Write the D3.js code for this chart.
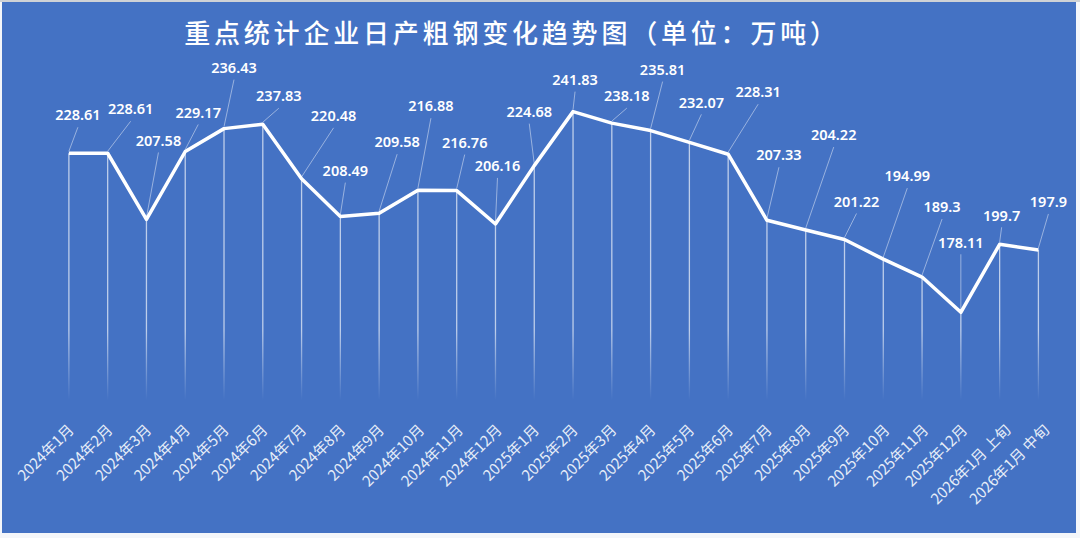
<!DOCTYPE html>
<html>
<head>
<meta charset="utf-8">
<script src="https://cdn.jsdelivr.net/npm/d3@7"></script>
<style>
  html, body { margin: 0; padding: 0; background: #ffffff; }
  svg { display: block; }
</style>
</head>
<body>
<svg id="chart" width="1080" height="538"></svg>
<script>
// data
var categories = [
  "2024年1月", "2024年2月", "2024年3月", "2024年4月", "2024年5月", "2024年6月",
  "2024年7月", "2024年8月", "2024年9月", "2024年10月", "2024年11月", "2024年12月",
  "2025年1月", "2025年2月", "2025年3月", "2025年4月", "2025年5月", "2025年6月",
  "2025年7月", "2025年8月", "2025年9月", "2025年10月", "2025年11月", "2025年12月",
  "2026年1月 上旬", "2026年1月 中旬"
];
var output = [
  228.61, 228.61, 207.58, 229.17, 236.43, 237.83,
  220.48, 208.49, 209.58, 216.88, 216.76, 206.16,
  224.68, 241.83, 238.18, 235.81, 232.07, 228.31,
  207.33, 204.22, 201.22, 194.99, 189.3, 178.11,
  199.7, 197.9
];
var yDomain = [150, 250];
var title = "重点统计企业日产粗钢变化趋势图（单位：万吨）";

// where Excel left each data label (offset of label centre from its point)
var labelOffsets = [
  [9, -38], [23, -44], [12, -79], [13, -39], [10, -61], [16, -28],
  [32, -63], [5, -46], [18, -71], [13, -84], [8, -48], [2, -58],
  [-5, -54], [2, -32], [15, -27], [12, -61], [12, -40], [30, -62],
  [12, -65], [28, -95], [12, -38], [24, -83], [20, -70], [0, -70],
  [2, -29], [10, -48]
];

var BG = "#4472c4";
var svg = d3.select("#chart");

// chart area with thin light frame like the screenshot
svg.append("rect").attr("x", 0).attr("y", 0).attr("width", 1080).attr("height", 538).attr("fill", "#f4f6fa");
svg.append("rect").attr("x", 0).attr("y", 0).attr("width", 1080).attr("height", 2).attr("fill", "#cfd2d6");
svg.append("rect").attr("x", 2).attr("y", 2).attr("width", 1074).attr("height", 531).attr("fill", BG);

var x = d3.scaleBand().domain(categories).range([49.5, 1057.8]);
var y = d3.scaleLinear().domain(yDomain).range([400.8, 85.9]);
var cx = function(d, i) { return x(categories[i]) + x.bandwidth() / 2; };

// fading drop lines
var defs = svg.append("defs");
var grad = defs.append("linearGradient")
  .attr("id", "dropFade").attr("gradientUnits", "userSpaceOnUse")
  .attr("x1", 0).attr("y1", 330).attr("x2", 0).attr("y2", 400);
grad.append("stop").attr("offset", 0).attr("stop-color", "#ffffff").attr("stop-opacity", 0.65);
grad.append("stop").attr("offset", 1).attr("stop-color", "#ffffff").attr("stop-opacity", 0);

svg.append("g").selectAll("line").data(output).join("line")
  .attr("x1", cx).attr("x2", cx)
  .attr("y1", function(d) { return y(d); })
  .attr("y2", y(yDomain[0]))
  .attr("stroke", "url(#dropFade)")
  .attr("stroke-width", 1.3);

// leader lines
svg.append("g").selectAll("line").data(output).join("line")
  .attr("x1", cx)
  .attr("y1", function(d) { return y(d) - 2; })
  .attr("x2", function(d, i) { return cx(d, i) + labelOffsets[i][0]; })
  .attr("y2", function(d, i) { return y(d) + labelOffsets[i][1] + 12; })
  .attr("stroke", "#ffffff")
  .attr("stroke-opacity", 0.45)
  .attr("stroke-width", 1);

// the line itself
var line = d3.line()
  .x(function(d, i) { return cx(d, i); })
  .y(function(d) { return y(d); });
svg.append("path").datum(output)
  .attr("d", line)
  .attr("fill", "none")
  .attr("stroke", "#ffffff")
  .attr("stroke-width", 3.5)
  .attr("stroke-linejoin", "round");

// data labels
svg.append("g").selectAll("text").data(output).join("text")
  .attr("x", function(d, i) { return cx(d, i) + labelOffsets[i][0]; })
  .attr("y", function(d, i) { return y(d) + labelOffsets[i][1]; })
  .attr("dy", "0.36em")
  .attr("text-anchor", "middle")
  .attr("fill", "#ffffff")
  .style("font-family", "'Noto Sans', 'Noto Sans CJK SC', sans-serif")
  .style("font-size", "14.5px")
  .style("font-weight", 600)
  .text(function(d) { return d; });

// category labels, rotated
var xLabels = svg.append("g").selectAll("text").data(categories).join("text")
  .attr("text-anchor", "end")
  .attr("fill", "#e6edf8")
  .style("font-family", "'Noto Sans CJK SC', sans-serif")
  .style("font-size", "15px")
  .text(function(d) { return d; });
xLabels.each(function(d) {
  var len = this.getComputedTextLength();
  var ax = x(d) + x.bandwidth() / 2 + Math.max(4, 0.18 * len - 7);
  d3.select(this).attr("transform", "translate(" + ax + ",431) rotate(-45)");
});

// title
svg.append("text")
  .attr("x", 512).attr("y", 43)
  .attr("text-anchor", "middle")
  .attr("fill", "#ffffff")
  .style("font-family", "'Noto Sans CJK SC', sans-serif")
  .style("font-size", "26px")
  .style("font-weight", 500)
  .style("letter-spacing", "3.8px")
  .text(title);
</script>
</body>
</html>
